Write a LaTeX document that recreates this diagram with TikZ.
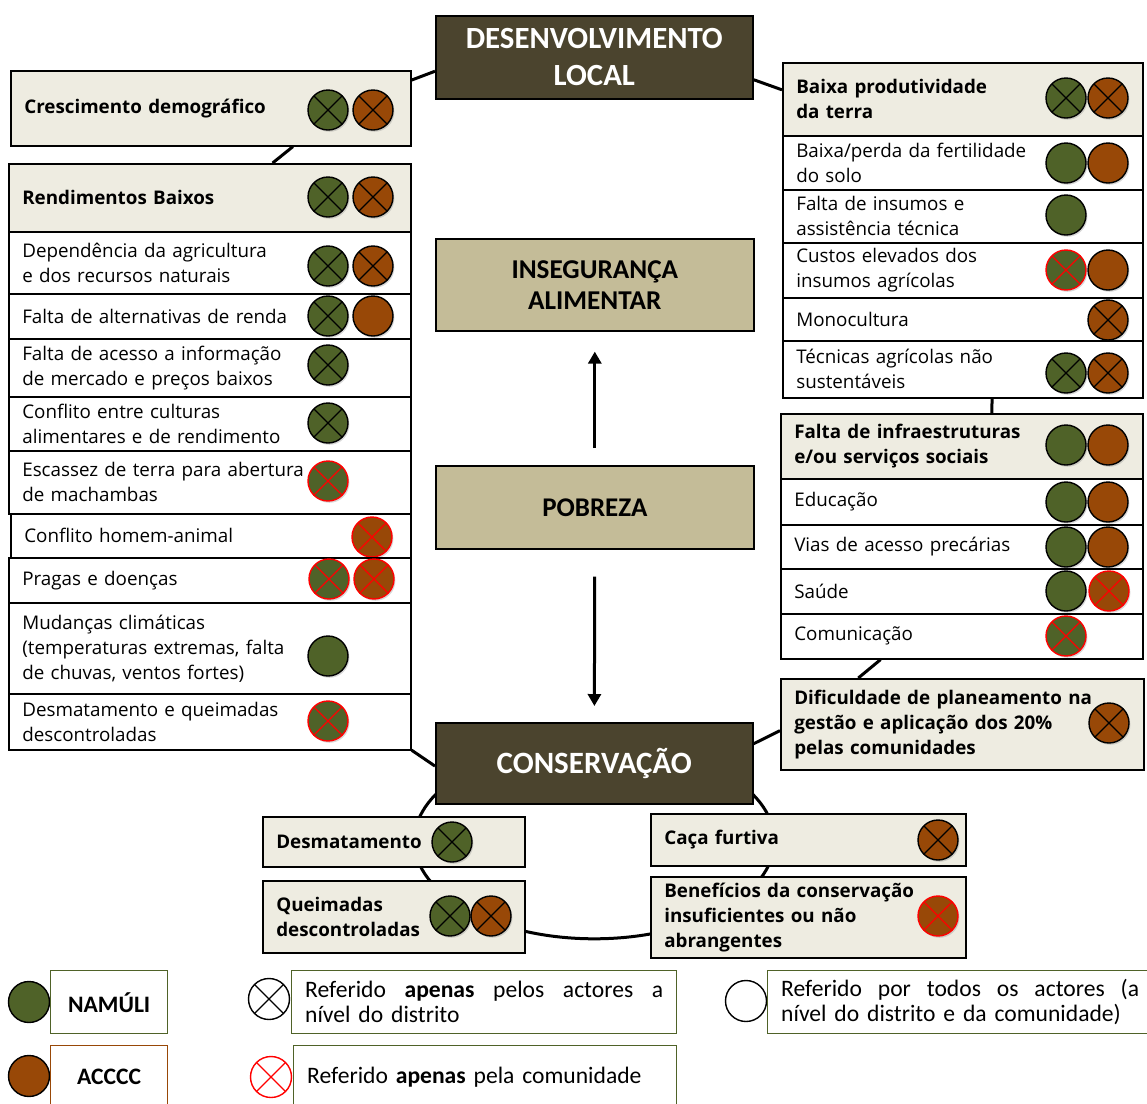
\documentclass[tikz,border=0pt]{standalone}
\usepackage{fontspec}
\setmainfont{Open Sans}
\newfontfamily\calibri{Carlito}
\usetikzlibrary{arrows.meta,shadows}
\definecolor{olvdark}{HTML}{4B442E}
\definecolor{sand}{HTML}{C4BC98}
\definecolor{beige}{HTML}{EEECE1}
\definecolor{grn}{HTML}{4F6228}
\definecolor{brn}{HTML}{984807}
\pgfdeclarelayer{background}
\pgfsetlayers{background,main}

\begin{document}
\begin{tikzpicture}[x=0.5pt,y=-0.5pt,
    sz/.code 2 args={\pgfmathsetmacro\bw{#1/2-13.5}\pgfmathsetmacro\bh{#2/2}%
      \pgfkeysalso{text width=\bw pt,minimum height=\bh pt}},
    box/.style={draw,line width=0.8pt,anchor=north west,inner xsep=6.75pt,inner ysep=0pt,
      align=left,font=\fontsize{9.4}{12.5}\selectfont},
    row/.style={box,fill=white},
    head/.style={box,fill=beige,font=\bfseries\fontsize{9.4}{12.5}\selectfont},
    title/.style={draw,line width=0.8pt,anchor=north west,inner xsep=6.75pt,inner ysep=0pt,align=center},
    dot/.style={circle,draw,line width=0.7pt,minimum size=20pt,inner sep=0pt,
      drop shadow={opacity=0.3,shadow xshift=0.7pt,shadow yshift=-0.9pt}},
    xk/.style={path picture={\draw[line width=0.6pt,#1]
      (path picture bounding box.north west) -- (path picture bounding box.south east)
      (path picture bounding box.north east) -- (path picture bounding box.south west);}},
    gd/.style={dot,fill=grn},
    bd/.style={dot,fill=brn},
    gx/.style={gd,xk=black},
    bx/.style={bd,xk=black},
    gr/.style={gd,draw=red,xk=red},
    br/.style={bd,draw=red,xk=red},
    ld/.style={circle,draw,line width=0.7pt,minimum size=20.5pt,inner sep=0pt},
    lbox/.style={draw,line width=0.7pt,anchor=north west,inner xsep=6.75pt,inner ysep=0pt,
      align=center,font=\calibri\fontsize{11.8}{12.5}\selectfont},
    ring/.style={line width=1.5pt},
    flow/.style={line width=1.5pt,-{Triangle[length=6pt,width=6.5pt]}}]
\useasboundingbox (0,0) rectangle (1147,1104);

% central chain
\node[title,sz={317}{83},fill=olvdark,text=white,font=\calibri\bfseries\fontsize{15.4}{18.5}\selectfont]
  (dev) at (435,15) {DESENVOLVIMENTO\\LOCAL};
\node[title,sz={318}{92},fill=sand,font=\calibri\bfseries\fontsize{13.6}{15.5}\selectfont]
  (ins) at (435,238) {INSEGURANÇA\\ALIMENTAR};
\node[title,sz={318}{83},fill=sand,font=\calibri\bfseries\fontsize{13.5}{15.5}\selectfont]
  (pob) at (435,465) {POBREZA};
\node[title,sz={317}{81},fill=olvdark,text=white,font=\calibri\bfseries\fontsize{15.5}{17.5}\selectfont]
  (cons) at (435,722) {CONSERVAÇÃO};
\draw[flow,shorten <=8.5pt,shorten >=10pt] (pob) -- (ins);
\draw[flow,shorten <=13.5pt,shorten >=8pt] (pob) -- (cons);

% left column
\node[head,sz={400}{75}] (cresc) at (10,70) {Crescimento demográfico};
\node[gx] (cresc-g) at (328,110) {}; \node[bx] (cresc-b) at (373,110) {};
\node[head,sz={402}{68}] (rend) at (8,163) {Rendimentos Baixos};
\node[gx] (rend-g) at (328,197) {}; \node[bx] (rend-b) at (373,197) {};
\node[row,sz={402}{62}] (dep) at (8,231) {Dependência da agricultura\\e dos recursos naturais};
\node[gx] (dep-g) at (328,266) {}; \node[bx] (dep-b) at (373,266) {};
\node[row,sz={402}{45}] (alt) at (8,293) {Falta de alternativas de renda};
\node[gx] (alt-g) at (328,316) {}; \node[bd] (alt-b) at (373,316) {};
\node[row,sz={402}{58}] (acess) at (8,338) {Falta de acesso a informação\\de mercado e preços baixos};
\node[gx] (acess-g) at (328,365) {};
\node[row,sz={402}{54}] (confc) at (8,396) {Conflito entre culturas\\alimentares e de rendimento};
\node[gx] (confc-g) at (328,423) {};
\node[row,sz={402}{63}] (escas) at (8,450) {Escassez de terra para abertura\\de machambas};
\node[gr] (escas-g) at (328,481) {};
\node[row,sz={400}{44}] (conha) at (10,513) {Conflito homem-animal};
\node[br] (conha-b) at (372,537) {};
\node[row,sz={402}{45}] (prag) at (8,557) {Pragas e doenças};
\node[gr] (prag-g) at (329,579) {}; \node[br] (prag-b) at (374,579) {};
\node[row,sz={402}{91}] (mudc) at (8,602) {Mudanças climáticas\\(temperaturas extremas, falta\\de chuvas, ventos fortes)};
\node[gd] (mudc-g) at (328,656) {};
\node[row,sz={402}{56}] (desq) at (8,693) {Desmatamento e queimadas\\descontroladas};
\node[gr] (desq-g) at (328,721) {};

% right column
\node[head,sz={360}{73}] (baixa) at (782,62) {Baixa produtividade\\da terra};
\node[gx] (baixa-g) at (1066,98) {}; \node[bx] (baixa-b) at (1108,98) {};
\node[row,sz={360}{54}] (fert) at (782,135) {Baixa/perda da fertilidade\\do solo};
\node[gd] (fert-g) at (1066,163) {}; \node[bd] (fert-b) at (1108,163) {};
\node[row,sz={360}{53}] (insum) at (782,189) {Falta de insumos e\\assistência técnica};
\node[gd] (insum-g) at (1066,215) {};
\node[row,sz={360}{55}] (custo) at (782,242) {Custos elevados dos\\insumos agrícolas};
\node[gr] (custo-g) at (1066,270) {}; \node[bd] (custo-b) at (1108,270) {};
\node[row,sz={360}{43}] (mono) at (782,297) {Monocultura};
\node[bx] (mono-b) at (1108,320) {};
\node[row,sz={360}{57}] (tecn) at (782,340) {Técnicas agrícolas não\\sustentáveis};
\node[gx] (tecn-g) at (1066,373) {}; \node[bx] (tecn-b) at (1108,373) {};
\node[head,sz={362}{65}] (infra) at (780,413) {Falta de infraestruturas\\e/ou serviços sociais};
\node[gd] (infra-g) at (1066,445) {}; \node[bd] (infra-b) at (1108,445) {};
\node[row,sz={362}{46}] (educ) at (780,478) {Educação};
\node[gd] (educ-g) at (1066,502) {}; \node[bd] (educ-b) at (1108,502) {};
\node[row,sz={362}{44}] (vias) at (780,524) {Vias de acesso precárias};
\node[gd] (vias-g) at (1066,547) {}; \node[bd] (vias-b) at (1108,547) {};
\node[row,sz={362}{45}] (saude) at (780,568) {Saúde};
\node[gd] (saude-g) at (1066,591) {}; \node[br] (saude-b) at (1109,591) {};
\node[row,sz={362}{45}] (comun) at (780,613) {Comunicação};
\node[gr] (comun-g) at (1066,636) {};
\node[head,sz={363}{91}] (dific) at (780,678) {Dificuldade de planeamento na\\gestão e aplicação dos 20\%\\pelas comunidades};
\node[bx] (dific-b) at (1109,723) {};

% conservation threats
\node[head,sz={262}{50}] (desm) at (262,816) {Desmatamento};
\node[gx] (desm-g) at (452,842) {};
\node[head,sz={262}{72}] (queim) at (262,880) {Queimadas\\descontroladas};
\node[gx] (queim-g) at (450,916) {}; \node[bx] (queim-b) at (491,916) {};
\node[head,sz={315}{52}] (caca) at (650,813) {Caça furtiva};
\node[bx] (caca-b) at (938,840) {};
\node[head,sz={315}{81}] (benef) at (650,876) {Benefícios da conservação\\insuficientes ou não\\abrangentes};
\node[br] (benef-b) at (938,916) {};

% loops behind the boxes
\begin{pgfonlayer}{background}
  \draw[ring] (dev.185) -- (cresc.8);
  \draw[ring] (cresc.-25) -- (rend.29);
  \draw[ring] (dev.-8) -- (baixa.177);
  \draw[ring] (tecn.-45) -- (infra.48);
  \draw[ring] (comun.196) -- (dific.156);
  \draw[ring] (dific.182) -- (cons.7);
  \draw[ring] (desq.-8) -- (cons.181);
  \draw[ring] (cons.center) ++(0,77.5) ellipse [x radius=180,y radius=98];
\end{pgfonlayer}

% legend
\node[ld,fill=grn] (key-g) at (29,1002) {};
\node[lbox,draw=grn,sz={117}{63}] (key-n) at (50,970) {\bfseries NAMÚLI};
\node[ld,fill=brn] (key-b) at (29,1076) {};
\node[lbox,draw=brn,sz={117}{63}] (key-a) at (50,1045) {\bfseries ACCCC};
\node[ld,fill=white,xk=black] (key-x) at (269,999) {};
\node[lbox,draw=grn,sz={385}{63},align=left] (key-d) at (291,970)
  {Referido\hfill\textbf{apenas}\hfill pelos\hfill actores\hfill a\\nível do distrito};
\node[ld,fill=white,draw=red,xk=red] (key-r) at (271,1077) {};
\node[lbox,draw=grn,sz={383}{63},align=left] (key-c) at (293,1045)
  {Referido \textbf{apenas} pela comunidade};
\node[ld,fill=white] (key-o) at (746,1001) {};
\node[lbox,draw=grn,sz={385}{63},align=left] (key-t) at (767,970)
  {Referido\hfill por\hfill todos\hfill os\hfill actores\hfill (a\\nível do distrito e da comunidade)};
\end{tikzpicture}
\end{document}
